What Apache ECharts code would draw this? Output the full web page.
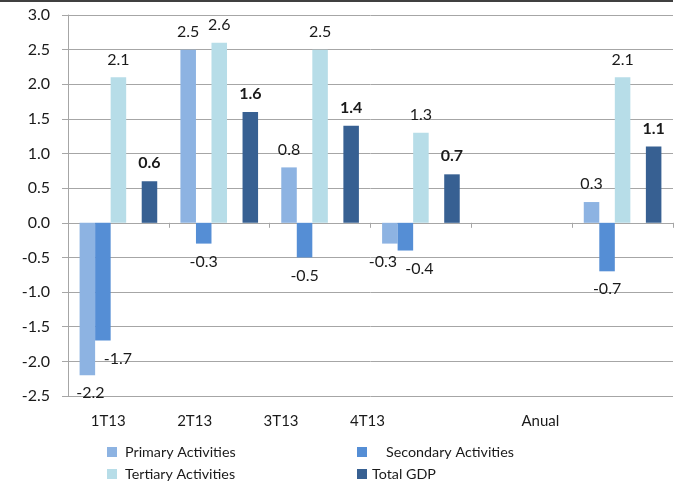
<!DOCTYPE html>
<html>
<head>
<meta charset="utf-8">
<script src="https://cdn.jsdelivr.net/npm/echarts@6/dist/echarts.min.js"></script>
<style>html,body{margin:0;padding:0;background:#fff}#c{width:685px;height:486px}</style>
</head>
<body>
<div id="c"></div>
<script>
const categories = ['1T13', '2T13', '3T13', '4T13', '', 'Anual'];
const labelCategories = ['1T13', '2T13', '3T13', '4T13', '', 'Anual', ''];
const primary = [-2.2, 2.5, 0.8, -0.3, null, 0.3];
const secondary = [-1.7, -0.3, -0.5, -0.4, null, -0.7];
const tertiary = [2.1, 2.6, 2.5, 1.3, null, 2.1];
const totalGDP = [0.6, 1.6, 1.4, 0.7, null, 1.1];
const spacer = [null, null, null, null, null, null];

const FONT = 'Lato';
const TXT = '#1a1a1a';

// label horizontal nudges (style only)
const primaryNudge = [3, 0, 0, -7, 0, 0];
const secondaryNudge = [15, 0, 0, 14, 0, 0];

function items(vals, nudge) {
  return vals.map((v, i) => {
    if (v === null) return null;
    return {
      value: v,
      label: {
        position: v >= 0 ? 'top' : 'bottom',
        offset: [nudge ? nudge[i] : 0, 0]
      }
    };
  });
}

function series(name, vals, color, bold, nudge) {
  return {
    name: name,
    type: 'bar',
    data: items(vals, nudge),
    itemStyle: { color: color },
    barGap: '0%',
    barCategoryGap: '23%',
    label: {
      show: true,
      distance: 10,
      fontFamily: FONT,
      fontSize: 16,
      color: TXT,
      fontWeight: bold ? 'bold' : 'normal',
      formatter: p => p.value.toFixed(1)
    }
  };
}

const colors = {
  primary: '#8DB3E2',
  secondary: '#558ED5',
  tertiary: '#B7DDE8',
  gdp: '#376092'
};

function legend(name, left, top, pad) {
  return {
    data: [name],
    left: left,
    top: top,
    orient: 'horizontal',
    icon: 'rect',
    itemWidth: 10,
    itemHeight: 10,
    padding: 0,
    textStyle: { fontFamily: FONT, fontSize: 14.3, color: TXT, lineHeight: 14, padding: [0, 0, 0, pad] }
  };
}

const chart = echarts.init(document.getElementById('c'));
chart.setOption({
  animation: false,
  color: [colors.primary, colors.secondary, colors.tertiary, '#fff', colors.gdp],
  grid: { left: 68, right: 12, top: 15, bottom: 90 },
  graphic: [{ type: 'rect', shape: { x: 0, y: 0, width: 673, height: 2 }, style: { fill: '#404040' } }],
  legend: [
    legend('Primary Activities', 107, 445, 3),
    legend('Tertiary Activities', 107, 467, 3),
    legend('Secondary Activities', 357, 445, 14),
    legend('Total GDP', 357, 467, 0)
  ],
  xAxis: [
    {
      type: 'category',
      data: categories,
      axisLine: { onZero: true, lineStyle: { color: '#A6A6A6', width: 1 } },
      axisTick: { show: true, length: 5, lineStyle: { color: '#A6A6A6' } },
      axisLabel: { show: false },
      splitLine: { show: false }
    },
    {
      type: 'category',
      data: labelCategories,
      position: 'bottom',
      axisLine: { show: false },
      axisTick: { show: false },
      axisLabel: { show: true, margin: 18, interval: 0, fontFamily: FONT, fontSize: 15, color: TXT, padding: [0, 6, 0, 0] },
      splitLine: { show: false }
    }
  ],
  yAxis: {
    type: 'value',
    min: -2.5,
    max: 3.0,
    interval: 0.5,
    axisLine: { show: true, lineStyle: { color: '#A6A6A6' } },
    axisTick: { show: true, length: 6, lineStyle: { color: '#A6A6A6' } },
    axisLabel: { fontFamily: FONT, fontSize: 16, color: TXT, margin: 18, formatter: v => v.toFixed(1) },
    splitLine: { show: true, lineStyle: { color: '#A6A6A6', width: 1 } }
  },
  series: [
    series('Primary Activities', primary, colors.primary, false, primaryNudge),
    series('Secondary Activities', secondary, colors.secondary, false, secondaryNudge),
    series('Tertiary Activities', tertiary, colors.tertiary, false, null),
    { name: 'spacer', type: 'bar', data: spacer, barGap: '0%', barCategoryGap: '23%', silent: true },
    series('Total GDP', totalGDP, colors.gdp, true, null)
  ]
});
</script>
</body>
</html>
